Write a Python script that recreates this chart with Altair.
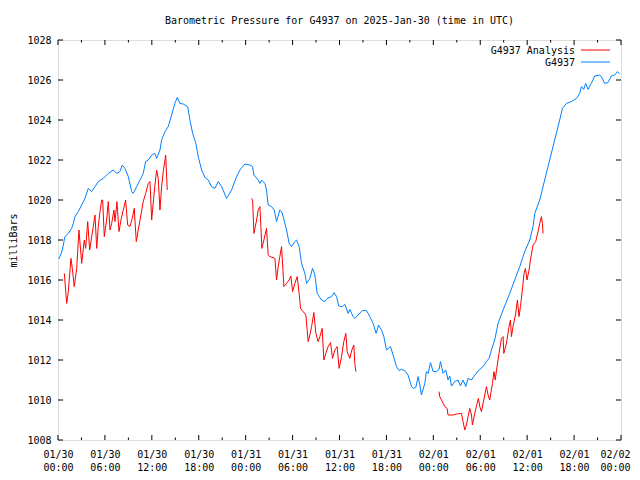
import json
import altair as alt
import pandas as pd

# ---- data (hours since 2025-01-30 00:00 UTC, pressure in millibars) ----
blue_hours = [0.10, 0.26, 0.55, 0.89, 1.32, 1.75, 1.96, 2.17, 2.59, 3.03, 3.45,
              3.87, 4.31, 4.73, 5.15, 5.79, 6.43, 7.07, 7.50, 7.92, 8.22,
              8.56, 8.99, 9.42, 9.62, 10.06, 10.70, 10.90, 11.21, 11.54, 11.98,
              12.40, 12.61, 13.04, 13.25, 13.68, 14.10, 14.53, 14.95, 15.25, 15.59,
              16.01, 16.58, 16.87, 17.22, 17.64, 17.93, 18.37, 18.79, 19.21, 19.64,
              20.07, 20.49, 20.92, 21.56, 22.20, 22.84, 23.26, 23.90, 24.54, 24.88,
              25.05, 25.60, 25.82, 26.04, 26.46, 26.67, 26.88, 27.31, 27.65, 27.95,
              28.37, 28.59, 28.80, 29.23, 29.56, 29.87, 30.29, 30.51, 30.84, 31.15,
              31.57, 31.79, 32.21, 32.55, 32.85, 33.14, 33.70, 34.13, 34.42, 34.98,
              35.31, 35.62, 35.91, 36.39, 36.68, 37.10, 37.32, 37.74, 37.96, 38.38,
              38.94, 39.46, 39.88, 40.30, 40.68, 40.99, 41.37, 41.67, 42.01, 42.52,
              42.85, 43.29, 43.62, 43.93, 44.35, 44.77, 45.21, 45.50, 45.76, 46.05,
              46.27, 46.48, 46.91, 47.12, 47.33, 47.64, 47.97, 48.40, 48.73, 48.91,
              49.25, 49.59, 49.88, 50.10, 50.32, 50.74, 51.16, 51.47, 51.80, 52.15,
              52.44, 52.88, 53.30, 53.85, 54.36, 54.79, 55.13, 55.43, 55.85, 56.28,
              56.92, 57.77, 58.41, 59.05, 59.69, 60.33, 60.75, 60.97, 61.61, 62.24,
              62.88, 63.52, 64.16, 64.51, 65.02, 65.66, 66.30, 66.72, 66.94, 67.23,
              67.48, 67.78, 68.21, 68.64, 69.27, 69.49, 69.91, 70.34, 70.77, 71.19,
              71.54, 71.83]
blue_hpa = [1017.05, 1017.17, 1017.5, 1018.17, 1018.33, 1018.58, 1018.83, 1019.17, 1019.42, 1019.75, 1020.08,
            1020.58, 1020.42, 1020.67, 1020.92, 1021.08, 1021.33, 1021.5, 1021.33, 1021.42, 1021.75,
            1021.58, 1021.17, 1020.42, 1020.33, 1020.67, 1021.17, 1021.33, 1021.92, 1022.0, 1022.25,
            1022.33, 1022.08, 1022.5, 1023.0, 1023.42, 1023.67, 1024.25, 1024.83, 1025.13, 1024.83,
            1024.8, 1024.67, 1024.0, 1023.33, 1022.83, 1022.17, 1021.5, 1021.13, 1021.0, 1020.67,
            1020.58, 1020.92, 1020.67, 1020.08, 1020.5, 1021.17, 1021.5, 1021.8, 1021.75, 1021.67,
            1021.25, 1021.0, 1020.83, 1021.0, 1020.83, 1020.5, 1019.75, 1019.67, 1019.5, 1018.92,
            1019.5, 1019.42, 1019.17, 1018.5, 1017.83, 1017.67, 1017.92, 1018.0, 1017.67, 1016.83,
            1016.33, 1015.83, 1016.08, 1016.58, 1016.25, 1015.33, 1015.0, 1014.92, 1015.08, 1015.17,
            1015.37, 1015.17, 1014.7, 1014.67, 1014.78, 1014.33, 1014.53, 1014.17, 1014.08, 1014.25,
            1014.47, 1014.47, 1014.17, 1013.83, 1013.33, 1013.75, 1013.5, 1013.17, 1012.5, 1012.67,
            1012.25, 1011.67, 1011.47, 1011.53, 1011.47, 1011.25, 1010.67, 1010.58, 1010.63, 1011.17,
            1010.75, 1010.25, 1010.83, 1011.42, 1011.33, 1011.87, 1011.42, 1011.42, 1011.53, 1011.92,
            1011.33, 1011.5, 1011.0, 1011.2, 1010.7, 1010.92, 1011.0, 1010.7, 1011.0, 1010.67,
            1011.08, 1011.0, 1011.25, 1011.5, 1011.67, 1011.92, 1012.08, 1012.5, 1013.0, 1013.83,
            1014.5, 1015.33, 1016.0, 1016.67, 1017.42, 1018.0, 1018.67, 1019.33, 1020.0, 1021.0,
            1022.0, 1023.0, 1024.0, 1024.58, 1024.83, 1024.92, 1025.08, 1025.33, 1025.67, 1025.53,
            1025.83, 1025.53, 1025.83, 1026.2, 1026.25, 1026.17, 1025.83, 1025.87, 1026.2, 1026.25,
            1026.42, 1026.3]

red1_hours = [0.81, 1.11, 1.32, 1.66, 1.83, 2.08, 2.39, 2.68, 3.03, 3.36,
              3.54, 3.80, 4.05, 4.31, 4.51, 4.73, 4.95, 5.15, 5.37, 5.59,
              5.71, 5.92, 6.22, 6.43, 6.65, 6.86, 7.16, 7.29, 7.54, 7.80,
              8.05, 8.35, 8.65, 8.91, 9.20, 9.50, 9.75, 10.01, 10.26, 10.61,
              10.90, 11.21, 11.54, 11.76, 11.98, 12.23, 12.40, 12.61, 12.82, 13.04,
              13.25, 13.46, 13.77, 13.97]
red1_hpa = [1016.33, 1014.83, 1015.42, 1017.08, 1016.58, 1015.67, 1016.58, 1018.5, 1016.83, 1018.0,
            1017.58, 1018.92, 1017.5, 1018.17, 1018.67, 1019.25, 1017.58, 1018.67, 1019.42, 1020.0,
            1020.0, 1018.17, 1019.0, 1019.92, 1018.5, 1018.83, 1019.5, 1018.92, 1019.92, 1018.42,
            1019.0, 1019.5, 1020.0, 1018.75, 1018.67, 1019.08, 1019.58, 1017.92, 1018.5, 1019.25,
            1019.92, 1020.33, 1020.83, 1020.92, 1019.0, 1020.08, 1020.75, 1021.5, 1021.08, 1019.5,
            1020.67, 1021.42, 1022.25, 1020.5]

red2_hours = [24.76, 24.89, 25.05, 25.40, 25.60, 25.82, 25.95, 26.07, 26.33, 26.67,
              26.88, 27.10, 27.74, 27.95, 28.16, 28.37, 28.59, 28.89, 29.23, 29.56,
              29.78, 30.00, 30.29, 30.59, 30.84, 31.02, 31.35, 31.70, 31.99, 32.21,
              32.43, 32.72, 32.98, 33.27, 33.49, 33.78, 34.00, 34.25, 34.55, 34.85,
              35.11, 35.40, 35.70, 35.95, 36.26, 36.55, 36.81, 36.98, 37.32, 37.58,
              37.83, 37.96, 38.09]
red2_hpa = [1020.08, 1020.0, 1018.33, 1019.0, 1019.5, 1019.67, 1018.67, 1017.58, 1018.0, 1018.58,
            1017.25, 1017.17, 1017.08, 1016.0, 1016.67, 1017.17, 1017.67, 1015.67, 1015.83, 1016.0,
            1016.2, 1015.42, 1015.83, 1016.17, 1015.33, 1014.58, 1014.42, 1014.25, 1012.92, 1013.25,
            1013.67, 1014.37, 1013.33, 1012.92, 1013.17, 1013.58, 1012.0, 1012.33, 1012.67, 1012.87,
            1012.08, 1012.5, 1012.67, 1011.58, 1012.17, 1012.92, 1013.33, 1012.42, 1012.08, 1012.5,
            1012.75, 1011.83, 1011.42]

red3_hours = [48.73, 48.82, 49.04, 49.46, 49.76, 49.88, 50.52, 50.96, 51.60, 51.80,
              52.02, 52.23, 52.44, 52.66, 52.88, 53.00, 53.30, 53.59, 53.77, 53.94,
              54.15, 54.45, 54.79, 55.00, 55.21, 55.56, 55.76, 55.91, 56.15, 56.40,
              56.71, 56.92, 57.01, 57.35, 57.68, 57.86, 57.99, 58.19, 58.54, 58.75,
              58.96, 59.14, 59.39, 59.60, 59.78, 59.98, 60.24, 60.42, 60.75, 61.09,
              61.39, 61.61, 61.82, 61.95, 62.03]
red3_hpa = [1010.42, 1010.17, 1010.0, 1009.67, 1009.58, 1009.25, 1009.25, 1009.3, 1009.33, 1008.92,
            1008.5, 1008.75, 1009.17, 1009.58, 1009.25, 1008.75, 1009.33, 1009.83, 1010.08, 1009.67,
            1009.42, 1010.0, 1010.67, 1010.25, 1010.0, 1010.83, 1011.42, 1011.0, 1011.67, 1012.33,
            1013.08, 1013.17, 1012.33, 1012.83, 1013.67, 1014.0, 1013.17, 1013.67, 1014.33, 1015.0,
            1014.17, 1014.67, 1015.5, 1016.33, 1016.58, 1016.0, 1016.5, 1017.0, 1017.75, 1017.92,
            1018.42, 1018.83, 1019.17, 1018.83, 1018.33]

x_tick_hours = list(range(0, 73, 6))
x_minor_hours = list(range(3, 72, 6))
day_labels = ["01/30", "01/31", "02/01", "02/02"]
y_tick_values = list(range(1008, 1029, 2))

title_text = "Barometric Pressure for G4937 on 2025-Jan-30 (time in UTC)"
legend_names = ["G4937 Analysis", "G4937"]
RED = "#ff0000"
BLUE = "#0080ff"
FONT = "DejaVu Sans Mono"

W, H = 563, 400

# ---- frames ----
blue_df = pd.DataFrame({"h": blue_hours, "p": blue_hpa})
red_df = pd.concat([
    pd.DataFrame({"h": red1_hours, "p": red1_hpa, "seg": 1}),
    pd.DataFrame({"h": red2_hours, "p": red2_hpa, "seg": 2}),
    pd.DataFrame({"h": red3_hours, "p": red3_hpa, "seg": 3}),
], ignore_index=True)

xscale = alt.Scale(domain=[0, 72], nice=False, zero=False)
yscale = alt.Scale(domain=[1008, 1028], nice=False, zero=False)

label_expr = (
    "[" + json.dumps(day_labels) + "[floor(datum.value/24)], "
    "(datum.value % 24 < 10 ? '0' : '') + (datum.value % 24) + ':00']"
)

x_axis = alt.Axis(values=x_tick_hours, labelExpr=label_expr, ticks=False, domain=False,
                  grid=False, title=None, labelPadding=9, labelLineHeight=13,
                  labelFont=FONT, labelFontSize=10, labelColor="black",
                  labelBaseline="top", labelFlush=False, labelOverlap=False,
                  labelAlign={"condition": {"test": "datum.value >= 72", "value": "right"},
                              "value": "center"},
                  labelOffset={"condition": {"test": "datum.value >= 72", "value": 9},
                               "value": 0})
y_axis = alt.Axis(values=y_tick_values, format="d", ticks=False, domain=False, grid=False,
                  title="milliBars", labelPadding=7, labelFont=FONT, labelFontSize=10,
                  labelColor="black", titleFont=FONT, titleFontSize=10,
                  titleFontWeight="normal", titleColor="black",
                  titleX=-40, titleY=200, labelFlush=False, labelOverlap=False)

X = alt.X("h:Q", scale=xscale, axis=x_axis)
Y = alt.Y("p:Q", scale=yscale, axis=y_axis)

red_line = alt.Chart(red_df).mark_line(color=RED, strokeWidth=1).encode(
    x=X, y=Y, detail="seg:N")
blue_line = alt.Chart(blue_df).mark_line(color=BLUE, strokeWidth=1).encode(x=X, y=Y)

# inward ticks on all four sides
maj = pd.DataFrame({"h": x_tick_hours})
mnr = pd.DataFrame({"h": x_minor_hours})
yt = pd.DataFrame({"p": y_tick_values})


def xr(df):
    return alt.Chart(df).mark_rule(color="black", strokeWidth=1)


tick_layers = [
    xr(maj).encode(x=X, y=alt.value(H), y2=alt.value(H - 5)),
    xr(maj).encode(x=X, y=alt.value(0), y2=alt.value(5)),
    xr(mnr).encode(x=X, y=alt.value(H), y2=alt.value(H - 2.5)),
    xr(mnr).encode(x=X, y=alt.value(0), y2=alt.value(2.5)),
    xr(yt).encode(y=Y, x=alt.value(0), x2=alt.value(5)),
    xr(yt).encode(y=Y, x=alt.value(W), x2=alt.value(W - 5)),
]

# legend (top right, text left of line sample)
one = pd.DataFrame({"a": [0]})
legend_layers = [
    alt.Chart(one).mark_text(align="right", baseline="middle", font=FONT, fontSize=10,
                             color="black").encode(
        x=alt.value(517), y=alt.value(10.5), text=alt.value(legend_names[0])),
    alt.Chart(one).mark_text(align="right", baseline="middle", font=FONT, fontSize=10,
                             color="black").encode(
        x=alt.value(517), y=alt.value(22.5), text=alt.value(legend_names[1])),
    alt.Chart(one).mark_rule(color=RED, strokeWidth=1).encode(
        x=alt.value(523), x2=alt.value(552), y=alt.value(10)),
    alt.Chart(one).mark_rule(color=BLUE, strokeWidth=1).encode(
        x=alt.value(523), x2=alt.value(552), y=alt.value(22)),
]

chart = alt.layer(red_line, blue_line, *tick_layers, *legend_layers).properties(
    width=W, height=H,
    title=alt.TitleParams(title_text, font=FONT, fontSize=10, fontWeight="normal",
                          color="black", anchor="middle", offset=9),
    autosize=alt.AutoSizeParams(type="none"),
    padding={"left": 50, "top": 32, "right": 11, "bottom": 32},
).configure_view(stroke="black", strokeWidth=1).configure(font=FONT)

chart.save("out.html", embed_options={"renderer": "svg", "actions": False})
